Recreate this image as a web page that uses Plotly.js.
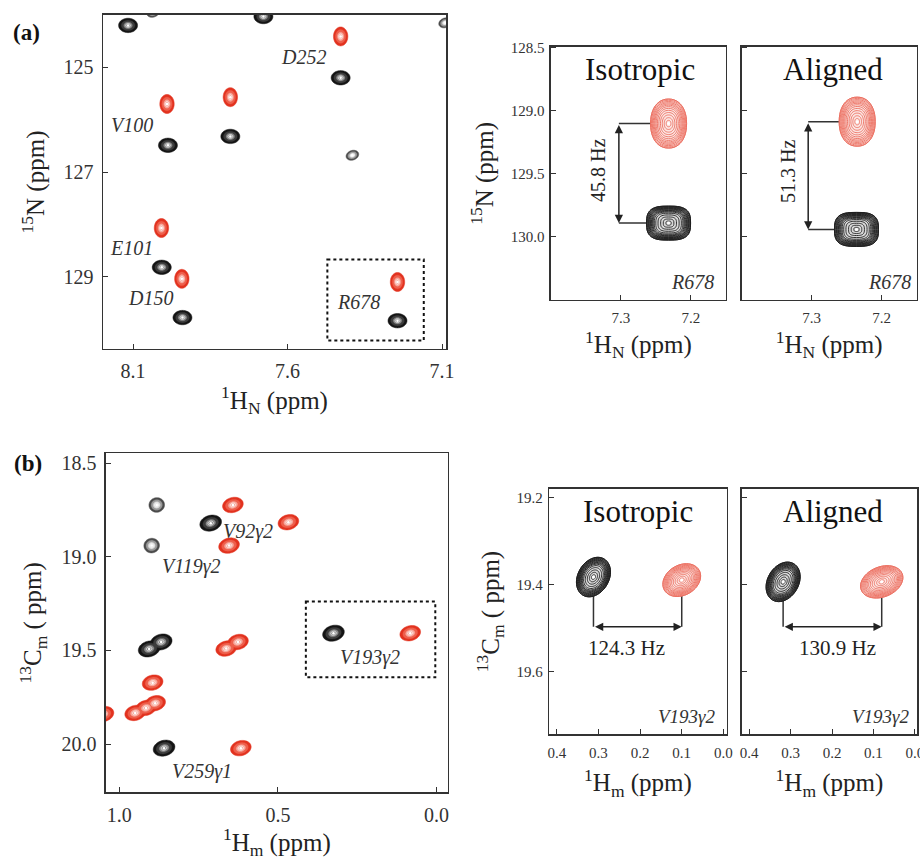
<!DOCTYPE html>
<html><head><meta charset="utf-8">
<script src="https://cdn.plot.ly/plotly-3.0.1.min.js"></script>
<style>body{margin:0;background:#fff}#chart{width:920px;height:860px}</style>
</head><body><div id="chart"></div>
<script>
// ---------- DATA ----------
// (a) 1H-15N overview: isotropic (black), aligned (red), weak (grey)
const aIsoH = [8.116, 7.678, 7.428, 7.987, 7.785, 8.007, 7.940, 7.244];
const aIsoN = [124.20, 124.03, 125.20, 126.49, 126.32, 128.82, 129.78, 129.84];
const aAliH = [7.428, 7.990, 7.785, 8.008, 7.942, 7.244];
const aAliN = [124.41, 125.70, 125.57, 128.07, 129.04, 129.10];
const aWeakH = [8.035, 7.090, 7.390];
const aWeakN = [123.95, 124.15, 126.68];
const aLabels = ['D252', 'V100', 'E101', 'D150', 'R678'];
const aLabelH = [7.548, 8.103, 8.106, 8.045, 7.370];
const aLabelN = [124.80, 126.11, 128.45, 129.40, 129.48];
const aBoxH = [7.471, 7.159];
const aBoxN = [128.67, 130.22];
// (a) R678 zoom: [isotropic, aligned]
const r678BlackH = [7.232, 7.236];
const r678BlackN = [129.89, 129.94];
const r678RedH = [7.232, 7.235];
const r678RedN = [129.10, 129.085];
const r678ArrowH = [7.303, 7.305];
const r678Coupling = ['45.8 Hz', '51.3 Hz'];
const r678CouplingH = [7.333, 7.333];
const r678CouplingN = [129.47, 129.48];

// (b) 1H-13C methyl overview
const bIsoH = [0.712, 0.906, 0.868, 0.859, 0.325];
const bIsoC = [18.82, 19.492, 19.455, 20.022, 19.408];
const bWeakH = [0.882, 0.898];
const bWeakC = [18.723, 18.94];
const bAliH = [0.642, 0.467, 0.654, 0.663, 0.626, 0.895, 0.950, 0.916, 0.887, 1.050, 0.617, 0.083];
const bAliC = [18.723, 18.815, 18.94, 19.49, 19.455, 19.672, 19.834, 19.807, 19.782, 19.84, 20.022, 19.408];
const bLabels = ['V92\u03b32', 'V119\u03b32', 'V193\u03b32', 'V259\u03b31'];
const bLabelH = [0.593, 0.772, 0.209, 0.740];
const bLabelC = [18.865, 19.052, 19.536, 20.147];
const bBoxH = [0.412, 0.004];
const bBoxC = [19.239, 19.643];
// (b) V193γ2 zoom: [isotropic, aligned]
const v193BlackH = [0.312, 0.318];
const v193BlackC = [19.383, 19.394];
const v193RedH = [0.100, 0.080];
const v193RedC = [19.390, 19.394];
const v193ArrowC = [19.497, 19.497];
const v193Coupling = ['124.3 Hz', '130.9 Hz'];
const v193CouplingH = [0.232, 0.187];
const v193CouplingC = [19.545, 19.545];

// ---------- RENDER ----------
const FONT = 'Liberation Serif';
const shapes = [];
const annotations = [];
const traces = [];

function ellPath(rx, ry, ang, n) {
  n = n || 2; const a = ang * Math.PI / 180; let d = '';
  for (let i = 0; i < 48; i++) {
    const t = 2 * Math.PI * i / 48, c = Math.cos(t), s = Math.sin(t);
    const ex = rx * Math.sign(c) * Math.pow(Math.abs(c), 2 / n);
    const ey = ry * Math.sign(s) * Math.pow(Math.abs(s), 2 / n);
    const x = ex * Math.cos(a) - ey * Math.sin(a);
    const y = ex * Math.sin(a) + ey * Math.cos(a);
    d += (i ? 'L' : 'M') + x.toFixed(2) + ',' + y.toFixed(2);
  }
  return d + 'Z';
}
function pshape(ax, x, y, path, fill, lc, lw) {
  shapes.push({type: 'path', xref: 'x' + ax, yref: 'y' + ax, xsizemode: 'pixel', ysizemode: 'pixel',
    xanchor: x, yanchor: y, path: path, fillcolor: fill, line: {color: lc, width: lw}, layer: 'below'});
}
// filled blob style (overview panels), drawn layer by layer so overlapping peaks merge
const PAL = {
  black: ['#141414', '#3c3c3c', '#8a8a8a'],
  red: ['#e2321f', '#ee5f4c', '#f7a89c'],
  weak: ['#4a4a4a', '#9a9a9a', '#dcdcdc']
};
function blobs(ax, xs, ys, kind, rx, ry, ang) {
  const p = PAL[kind];
  const layers = [[1, p[0], p[0], 0.5], [0.72, p[1], p[1], 0.3], [0.45, p[2], p[2], 0.3], [0.25, 'rgba(0,0,0,0)', '#ffffff', 0.7]];
  layers.forEach(L => xs.forEach((x, i) => pshape(ax, x, ys[i], ellPath(rx * L[0], ry * L[0], ang), L[1], L[2], L[3])));
  traces.push({type: 'scatter', mode: 'markers', x: xs, y: ys, xaxis: 'x' + ax, yaxis: 'y' + ax,
    marker: {size: 2.5, color: '#ffffff'}, hoverinfo: 'x+y', showlegend: false});
}
// contour ring style (zoom panels)
function rings(ax, x, y, kind, rx, ry, ang, n) {
  const col = kind === 'red' ? '#ec7062' : '#1e1e1e';
  const sc = kind === 'red' ? [1, .95, .9, .85, .8, .75, .69, .62, .54, .45, .35, .24, .13]
                             : [1, .97, .94, .91, .88, .85, .82, .78, .74, .70, .65, .58, .48, .36, .24, .12];
  pshape(ax, x, y, ellPath(rx, ry, ang, n), kind === 'red' ? '#fbe4e1' : '#d8d8d8', col, 1);
  sc.forEach(k => pshape(ax, x, y, ellPath(rx * k, ry * k, ang, n), 'rgba(0,0,0,0)', col, 0.9));
}
function note(xref, yref, x, y, text, size, color, extra) {
  annotations.push(Object.assign({xref: xref, yref: yref, x: x, y: y, text: text, showarrow: false,
    xanchor: 'center', yanchor: 'middle', font: {family: FONT, size: size, color: color}}, extra || {}));
}

// ----- panel (a) overview: axis '' -----
blobs('', aIsoH, aIsoN, 'black', 9.5, 7.2, 0);
blobs('', aAliH, aAliN, 'red', 7.2, 9.5, 0);
blobs('', aWeakH, aWeakN, 'weak', 6.5, 4.8, 20);
shapes.push({type: 'rect', xref: 'x', yref: 'y', x0: aBoxH[0], x1: aBoxH[1], y0: aBoxN[0], y1: aBoxN[1],
  line: {color: '#111', width: 2, dash: 'dot'}, layer: 'above'});
aLabels.forEach((t, i) => note('x', 'y', aLabelH[i], aLabelN[i], '<i>' + t + '</i>', 20, '#333'));

// ----- panel (a) R678 zoom: axes 2 (isotropic) and 3 (aligned) -----
['2', '3'].forEach((ax, k) => {
  const ah = r678ArrowH[k];
  shapes.push({type: 'line', xref: 'x' + ax, yref: 'y' + ax, x0: ah, x1: r678RedH[k], y0: r678RedN[k], y1: r678RedN[k], line: {color: '#333', width: 1.5}, layer: 'below'});
  shapes.push({type: 'line', xref: 'x' + ax, yref: 'y' + ax, x0: ah, x1: r678BlackH[k], y0: r678BlackN[k], y1: r678BlackN[k], line: {color: '#333', width: 1.5}, layer: 'below'});
  rings(ax, r678RedH[k], r678RedN[k], 'red', 18, 24.5, 0, 2.2);
  rings(ax, r678BlackH[k], r678BlackN[k], 'black', 22, 17, 0, 3);
  traces.push({type: 'scatter', mode: 'markers', x: [r678RedH[k], r678BlackH[k]], y: [r678RedN[k], r678BlackN[k]],
    xaxis: 'x' + ax, yaxis: 'y' + ax, marker: {size: 3, color: '#ffffff'}, hoverinfo: 'x+y', showlegend: false});
  annotations.push({xref: 'x' + ax, yref: 'y' + ax, axref: 'x' + ax, ayref: 'y' + ax, x: ah, y: r678BlackN[k], ax: ah, ay: r678RedN[k],
    text: '', showarrow: true, arrowhead: 2, startarrowhead: 2, arrowside: 'end+start', arrowsize: 1.1, arrowwidth: 1.5,
    arrowcolor: '#222', standoff: 0, startstandoff: 0});
  note('x' + ax, 'y' + ax, r678CouplingH[k], r678CouplingN[k], r678Coupling[k], 20, '#222', {textangle: -90});
  note('x' + ax + ' domain', 'y' + ax + ' domain', k ? 0.522 : 0.509, 0.908, k ? 'Aligned' : 'Isotropic', 31, '#111');
  note('x' + ax + ' domain', 'y' + ax + ' domain', k ? 0.842 : 0.806, 0.071, '<i>R678</i>', 20, '#333');
});

// ----- panel (b) overview: axis 4 -----
blobs('4', bIsoH, bIsoC, 'black', 11, 7.8, 15);
blobs('4', bAliH, bAliC, 'red', 10.5, 7.5, 15);
blobs('4', bWeakH, bWeakC, 'weak', 7.8, 7.3, 10);
shapes.push({type: 'rect', xref: 'x4', yref: 'y4', x0: bBoxH[0], x1: bBoxH[1], y0: bBoxC[0], y1: bBoxC[1],
  line: {color: '#111', width: 2, dash: 'dot'}, layer: 'above'});
bLabels.forEach((t, i) => note('x4', 'y4', bLabelH[i], bLabelC[i], '<i>' + t + '</i>', 20, '#333'));

// ----- panel (b) V193 zoom: axes 5, 6 -----
['5', '6'].forEach((ax, k) => {
  const ac = v193ArrowC[k];
  shapes.push({type: 'line', xref: 'x' + ax, yref: 'y' + ax, x0: v193BlackH[k], x1: v193BlackH[k], y0: v193BlackC[k], y1: ac, line: {color: '#333', width: 1.5}, layer: 'below'});
  shapes.push({type: 'line', xref: 'x' + ax, yref: 'y' + ax, x0: v193RedH[k], x1: v193RedH[k], y0: v193RedC[k], y1: ac, line: {color: '#333', width: 1.5}, layer: 'below'});
  rings(ax, v193BlackH[k], v193BlackC[k], 'black', 21, 15.5, 60, 2);
  rings(ax, v193RedH[k], v193RedC[k], 'red', k ? 22 : 20, 15, k ? 22 : 30, 2);
  traces.push({type: 'scatter', mode: 'markers', x: [v193BlackH[k], v193RedH[k]], y: [v193BlackC[k], v193RedC[k]],
    xaxis: 'x' + ax, yaxis: 'y' + ax, marker: {size: 3, color: '#ffffff'}, hoverinfo: 'x+y', showlegend: false});
  annotations.push({xref: 'x' + ax, yref: 'y' + ax, axref: 'x' + ax, ayref: 'y' + ax, x: v193RedH[k], y: ac, ax: v193BlackH[k], ay: ac,
    text: '', showarrow: true, arrowhead: 2, startarrowhead: 2, arrowside: 'end+start', arrowsize: 1.1, arrowwidth: 1.5,
    arrowcolor: '#222', standoff: 0, startstandoff: 0});
  note('x' + ax, 'y' + ax, v193CouplingH[k], v193CouplingC[k], v193Coupling[k], 21, '#222');
  note('x' + ax + ' domain', 'y' + ax + ' domain', k ? 0.518 : 0.502, 0.907, k ? 'Aligned' : 'Isotropic', 31, '#111');
  note('x' + ax + ' domain', 'y' + ax + ' domain', k ? 0.792 : 0.775, 0.071, '<i>V193\u03b32</i>', 19, '#333');
});

note('paper', 'paper', 26 / 920, 1 - 32 / 860, '<b>(a)</b>', 23, '#111');
note('paper', 'paper', 28 / 920, 1 - 463 / 860, '<b>(b)</b>', 23, '#111');

function axis(domain, range, tickvals, fmt, tsize, title, extra) {
  return Object.assign({domain: domain, range: range, tickvals: tickvals, tickformat: fmt, showgrid: false, zeroline: false,
    showline: true, mirror: true, linecolor: '#333', linewidth: 1.5, ticks: 'inside', ticklen: 5, tickcolor: '#333',
    ticklabeloverflow: 'allow', tickfont: {family: FONT, size: tsize, color: '#333'},
    title: title ? {text: title.t, standoff: title.s, font: {family: FONT, size: 25, color: '#222'}} : undefined}, extra || {});
}
const HN = '<sup>1</sup>H<sub>N</sub> (ppm)', N15 = '<sup>15</sup>N (ppm)';
const HM = '<sup>1</sup>H<sub>m</sub> (ppm)', C13 = '<sup>13</sup>C<sub>m</sub> ( ppm)';
const layout = {
  width: 920, height: 860, margin: {l: 0, r: 0, t: 0, b: 0}, paper_bgcolor: '#fff', plot_bgcolor: '#fff',
  showlegend: false, font: {family: FONT},
  xaxis: axis([0.112, 0.4848], [8.197, 7.087], [8.1, 7.6, 7.1], '.1f', 20, {t: HN, s: 8}, {anchor: 'y', ticklabelstandoff: 4}),
  yaxis: axis([0.5942, 0.9826], [130.38, 124.0], [125, 127, 129], 'd', 20, {t: N15, s: 12}, {anchor: 'x', ticklabelstandoff: 4}),
  xaxis2: axis([0.5989, 0.7891], [7.4, 7.15], [7.3, 7.2], '.1f', 15, {t: HN, s: 10}, {anchor: 'y2', ticklabelstandoff: 4}),
  yaxis2: axis([0.6512, 0.9457], [130.5, 128.49], [128.5, 129, 129.5, 130], '.1f', 15, {t: N15, s: 10}, {anchor: 'x2', ticklabelstandoff: 2}),
  xaxis3: axis([0.8062, 0.9964], [7.4, 7.15], [7.3, 7.2], '.1f', 15, {t: HN, s: 10}, {anchor: 'y3', ticklabelstandoff: 4}),
  yaxis3: axis([0.6512, 0.9457], [130.5, 128.49], [128.5, 129, 129.5, 130], '.1f', 15, null, {anchor: 'x3', showticklabels: false}),
  xaxis4: axis([0.1152, 0.4866], [1.042, -0.035], [1.0, 0.5, 0.0], '.1f', 20, {t: HM, s: 10}, {anchor: 'y4', ticklabelstandoff: 4}),
  yaxis4: axis([0.0787, 0.4729], [20.258, 18.447], [18.5, 19.0, 19.5, 20.0], '.1f', 20, {t: C13, s: 12}, {anchor: 'x4', ticklabelstandoff: 4}),
  xaxis5: axis([0.5971, 0.7899], [0.418, -0.008], [0.4, 0.3, 0.2, 0.1, 0.0], '.1f', 15, {t: HM, s: 14}, {anchor: 'y5', ticklabelstandoff: 4}),
  yaxis5: axis([0.1465, 0.4314], [19.743, 19.181], [19.2, 19.4, 19.6], '.1f', 15, {t: C13, s: 10}, {anchor: 'x5', ticklabelstandoff: 2}),
  xaxis6: axis([0.8062, 0.9971], [0.418, -0.006], [0.4, 0.3, 0.2, 0.1, 0.0], '.1f', 15, {t: HM, s: 14}, {anchor: 'y6', ticklabelstandoff: 4}),
  yaxis6: axis([0.1465, 0.4314], [19.743, 19.181], [19.2, 19.4, 19.6], '.1f', 15, null, {anchor: 'x6', showticklabels: false}),
  shapes: shapes, annotations: annotations
};
Plotly.newPlot('chart', traces, layout, {staticPlot: true, displayModeBar: false});
</script></body></html>
